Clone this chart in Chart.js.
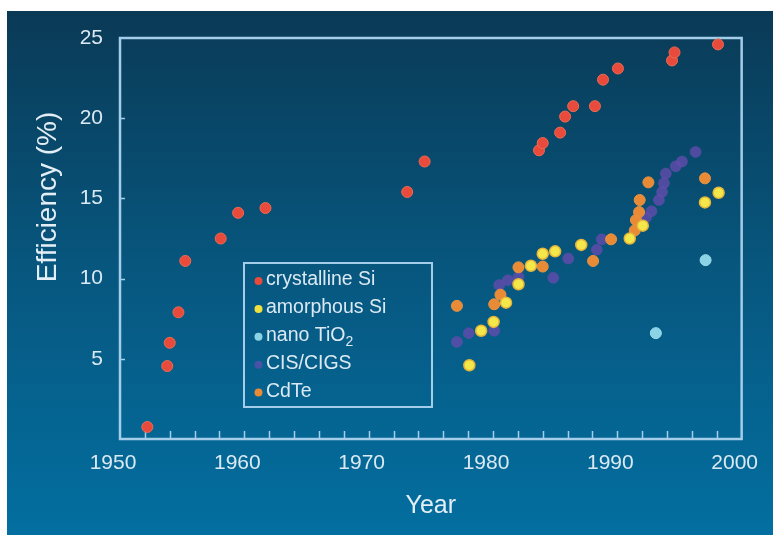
<!DOCTYPE html>
<html><head><meta charset="utf-8">
<script src="https://cdn.jsdelivr.net/npm/chart.js@4"></script>
<style>html,body{margin:0;padding:0;background:#fff;}</style>
</head><body>
<canvas id="c" width="777" height="535"></canvas>
<script>
// ---- data ----
const seriesNames = ['crystalline Si', 'amorphous Si', 'nano TiO₂', 'CIS/CIGS', 'CdTe'];

const crystYear = [1952.2,1953.8,1954.0,1954.7,1955.25,1958.1,1959.5,1961.7,1973.1,1974.5,1983.7,1984.0,1985.4,1985.8,1986.45,1988.2,1988.85,1990.05,1994.4,1994.6,1998.1];
const crystEff  = [0.75,4.55,6.0,7.9,11.1,12.5,14.1,14.4,15.4,17.3,18.0,18.45,19.1,20.1,20.75,20.75,22.4,23.1,23.6,24.1,24.6];

const amorphYear = [1978.1,1979.05,1980.05,1981.05,1982.05,1983.05,1984.0,1985.0,1987.1,1991.0,1992.05,1997.05,1998.15];
const amorphEff  = [4.6,6.75,7.3,8.5,9.65,10.8,11.55,11.7,12.1,12.5,13.3,14.75,15.35];

const nanoYear = [1993.1,1997.1];
const nanoEff  = [6.6,11.15];

const cisYear = [1977.1,1978.05,1980.1,1980.5,1981.2,1982.05,1984.85,1986.05,1988.35,1988.75,1992.3,1992.75,1993.35,1993.6,1993.75,1993.9,1994.7,1995.2,1996.3];
const cisEff  = [6.05,6.6,6.75,9.6,9.9,10.1,10.05,11.25,11.8,12.45,13.8,14.2,14.9,15.4,15.95,16.55,17.0,17.3,17.9];

const cdteYear = [1977.1,1980.1,1980.6,1982.05,1984.0,1988.05,1989.5,1991.4,1991.5,1991.75,1991.8,1992.5,1997.05];
const cdteEff  = [8.3,8.4,9.0,10.7,10.75,11.1,12.45,13.0,13.65,14.15,14.9,16.0,16.25];

const xTickMin = 1950, xTickMax = 2000, xTickStep = 2, xLabelStep = 10;
const yTickMin = 0, yTickMax = 25, yTickStep = 5;
const xTitle = 'Year';
const yTitle = 'Efficiency (%)';

// ---- helpers ----
function pts(xs, ys){ return xs.map((x,i)=>({x:x, y:ys[i]})); }

const FONT = '"Liberation Sans", Arial, sans-serif';
const TEXT = '#dbe9f3';
const FRAME = '#a3cde9';

const bgPlugin = {
  id:'bg',
  beforeDraw(chart){
    const c = chart.ctx;
    c.save();
    c.fillStyle = '#ffffff';
    c.fillRect(0,0,chart.width,chart.height);
    const g = c.createLinearGradient(0,11,0,535);
    g.addColorStop(0,'#0a3a56');
    g.addColorStop(0.5,'#07577f');
    g.addColorStop(1,'#036fa0');
    c.fillStyle = g;
    c.fillRect(7,11,766,524);
    c.restore();
  }
};

const framePlugin = {
  id:'frame',
  beforeDatasetsDraw(chart){
    const c = chart.ctx, a = chart.chartArea;
    const xs = chart.scales.x, ys = chart.scales.y;
    c.save();
    c.strokeStyle = FRAME;
    c.lineWidth = 2.5;
    c.strokeRect(a.left, a.top, a.right-a.left, a.bottom-a.top);
    c.lineWidth = 1.5;
    c.beginPath();
    xs.ticks.forEach(t=>{
      if (t.value <= xs.min || t.value >= xs.max) return;
      const p = Math.round(xs.getPixelForValue(t.value))+0.5;
      c.moveTo(p, a.bottom); c.lineTo(p, a.bottom-8);
    });
    ys.ticks.forEach(t=>{
      if (t.value <= ys.min || t.value >= ys.max) return;
      const p = Math.round(ys.getPixelForValue(t.value))+0.5;
      c.moveTo(a.left, p); c.lineTo(a.left+5, p);
    });
    c.stroke();
    c.restore();
  }
};

function drawLabel(c, text, x, y, size){
  // handles subscript "₂"
  const parts = text.split('₂');
  let cx = x;
  parts.forEach((p,i)=>{
    c.font = size+'px '+FONT;
    c.fillText(p, cx, y);
    cx += c.measureText(p).width;
    if (i < parts.length-1){
      c.font = Math.round(size*0.7)+'px '+FONT;
      c.fillText('2', cx, y+6);
      cx += c.measureText('2').width;
    }
  });
}

const legendPlugin = {
  id:'boxLegend',
  afterDatasetsDraw(chart){
    const c = chart.ctx;
    const L = 244, T = 263, R = 432, B = 407;
    c.save();
    c.strokeStyle = FRAME;
    c.lineWidth = 2;
    c.strokeRect(L, T, R-L, B-T);
    c.textBaseline = 'middle';
    c.textAlign = 'left';
    chart.data.datasets.forEach((ds,i)=>{
      const y = 280 + i*27.9;
      c.beginPath();
      c.fillStyle = ds.legendColor;
      c.arc(258.5, y+1, 4, 0, Math.PI*2);
      c.fill();
      c.fillStyle = TEXT;
      drawLabel(c, ds.label, 266, y, 19.5);
    });
    c.restore();
  }
};

const titlePlugin = {
  id:'titles',
  afterDraw(chart){
    const c = chart.ctx, a = chart.chartArea;
    c.save();
    c.fillStyle = '#e3eef6';
    c.textAlign = 'center';
    c.textBaseline = 'alphabetic';
    c.font = '25px '+FONT;
    c.fillText(xTitle, (a.left+a.right)/2, 513);
    c.translate(56, 197);
    c.rotate(-Math.PI/2);
    c.font = '28px '+FONT;
    c.fillText(yTitle, 0, 0);
    c.restore();
  }
};

const common = {showLine:false, pointRadius:5.5, pointHoverRadius:5.5, clip:false};

new Chart(document.getElementById('c'), {
  type:'scatter',
  data:{datasets:[
    Object.assign({label:seriesNames[0], data:pts(crystYear,crystEff), order:0,
      backgroundColor:'#e84a3c', borderColor:'#ee6a50', borderWidth:1, legendColor:'#e84a3c'}, common),
    Object.assign({label:seriesNames[1], data:pts(amorphYear,amorphEff), order:1,
      backgroundColor:'#f3e74a', borderColor:'#e6b53a', borderWidth:1.5, legendColor:'#f0e040'}, common),
    Object.assign({label:seriesNames[2], data:pts(nanoYear,nanoEff), order:2,
      backgroundColor:'#8ad4e6', borderColor:'#9adcec', borderWidth:1, legendColor:'#8ad4e6'}, common),
    Object.assign({label:seriesNames[3], data:pts(cisYear,cisEff), order:4,
      backgroundColor:'rgba(98,76,172,0.8)', borderColor:'rgba(98,76,172,0.5)', borderWidth:1, legendColor:'rgba(102,78,178,0.7)'}, common),
    Object.assign({label:seriesNames[4], data:pts(cdteYear,cdteEff), order:3,
      backgroundColor:'#e88a36', borderColor:'#ea9440', borderWidth:1, legendColor:'#e88a36'}, common)
  ]},
  options:{
    responsive:false, animation:false, devicePixelRatio:1,
    layout:{padding:{left:0,right:34,top:38,bottom:0}},
    plugins:{legend:{display:false}, tooltip:{enabled:false}},
    scales:{
      x:{type:'linear', min:xTickMin, max:xTickMax,
        afterFit(s){ s.height = 96; },
        grid:{display:false, drawTicks:false}, border:{display:false},
        ticks:{stepSize:xTickStep, autoSkip:false, maxRotation:0, padding:12, labelOffset:-7,
          color:TEXT, font:{family:FONT, size:21},
          callback:v => (v % xLabelStep === 0 ? String(v) : '')}},
      y:{type:'linear', min:yTickMin, max:yTickMax,
        afterFit(s){ s.width = 120; },
        grid:{display:false, drawTicks:false}, border:{display:false},
        ticks:{stepSize:yTickStep, padding:17, color:TEXT, font:{family:FONT, size:21},
          callback:v => (v === 0 ? '' : String(v))}}
    }
  },
  plugins:[bgPlugin, framePlugin, legendPlugin, titlePlugin]
});
</script>
</body></html>
